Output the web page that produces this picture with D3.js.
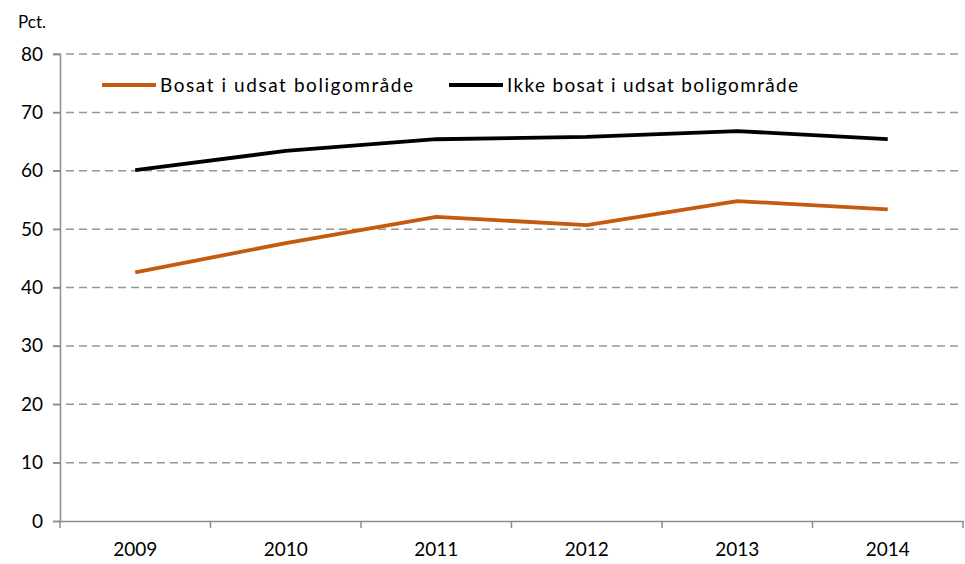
<!DOCTYPE html>
<html>
  <head>
    <meta charset="utf-8">
    <title>Pct.</title>
    <script src="https://d3js.org/d3.v7.min.js"></script>
    <style>
      body { margin: 0; background: #fff; }
      text { font-family: "Lato", "Open Sans", sans-serif; fill: #000; }
    </style>
  </head>
  <body>
    <script>
      var years = ["2009", "2010", "2011", "2012", "2013", "2014"];
      var bosat = [42.6, 47.6, 52.1, 50.7, 54.8, 53.4];
      var ikkeBosat = [60.1, 63.4, 65.4, 65.8, 66.8, 65.4];
      var yTicks = [0, 10, 20, 30, 40, 50, 60, 70, 80];
      var seriesNames = ["Bosat i udsat boligområde", "Ikke bosat i udsat boligområde"];
      var seriesColors = ["#c55a11", "#000000"];

      var width = 965, height = 564;
      var margin = {left: 60, right: 2, top: 54, bottom: 43};

      var svg = d3.select("body").append("svg")
        .attr("width", width)
        .attr("height", height);

      var x = d3.scaleBand()
        .domain(years)
        .range([margin.left, width - margin.right]);

      var y = d3.scaleLinear()
        .domain([0, 80])
        .range([height - margin.bottom, margin.top]);

      // dashed gridlines
      svg.append("g")
        .selectAll("line")
        .data(yTicks.filter(function(d) { return d > 0; }))
        .enter().append("line")
          .attr("x1", margin.left - 7)
          .attr("x2", width - margin.right)
          .attr("y1", function(d) { return y(d); })
          .attr("y2", function(d) { return y(d); })
          .attr("stroke", "#969696")
          .attr("stroke-width", 1.5)
          .attr("stroke-dasharray", "8,5");

      // y axis
      var yAxis = svg.append("g")
        .attr("transform", "translate(" + margin.left + ",0)")
        .call(d3.axisLeft(y).tickValues(yTicks).tickSize(7).tickPadding(10));
      yAxis.select(".domain").attr("stroke", "#8c8c8c").attr("stroke-width", 1.5);
      yAxis.selectAll(".tick line").attr("stroke", "#8c8c8c").attr("stroke-width", 1.5);
      yAxis.selectAll(".tick text").style("font-size", "19px");

      // x axis
      var xAxis = svg.append("g")
        .attr("transform", "translate(0," + y(0) + ")")
        .call(d3.axisBottom(x).tickSize(0).tickPadding(22));
      xAxis.select(".domain").attr("stroke", "#8c8c8c").attr("stroke-width", 1.5);
      xAxis.selectAll(".tick text").style("font-size", "19px");

      // category boundary ticks
      var bounds = years.map(function(d) { return x(d); }).concat([x(years[years.length - 1]) + x.bandwidth()]);
      xAxis.selectAll(".bound")
        .data(bounds)
        .enter().append("line")
          .attr("class", "bound")
          .attr("x1", function(d) { return d; })
          .attr("x2", function(d) { return d; })
          .attr("y1", 0)
          .attr("y2", 7)
          .attr("stroke", "#8c8c8c")
          .attr("stroke-width", 1.5);

      svg.append("text")
        .attr("x", 18)
        .attr("y", 28)
        .style("font-size", "17px")
        .text("Pct.");

      var line = d3.line()
        .x(function(d, i) { return x(years[i]) + x.bandwidth() / 2; })
        .y(function(d) { return y(d); });

      [bosat, ikkeBosat].forEach(function(values, i) {
        svg.append("path")
          .datum(values)
          .attr("d", line)
          .attr("fill", "none")
          .attr("stroke", seriesColors[i])
          .attr("stroke-width", 3.8)
          .attr("stroke-linejoin", "round");
      });

      // legend
      var legendX = [102, 449];
      var legendTextLen = [253, 291];
      var legend = svg.append("g");
      seriesNames.forEach(function(name, i) {
        legend.append("line")
          .attr("x1", legendX[i])
          .attr("x2", legendX[i] + 54)
          .attr("y1", 85)
          .attr("y2", 85)
          .attr("stroke", seriesColors[i])
          .attr("stroke-width", 3.8);
        legend.append("text")
          .attr("x", legendX[i] + 58)
          .attr("y", 92)
          .attr("textLength", legendTextLen[i])
          .attr("lengthAdjust", "spacing")
          .style("font-size", "19px")
          .text(name);
      });
    </script>
  </body>
</html>
